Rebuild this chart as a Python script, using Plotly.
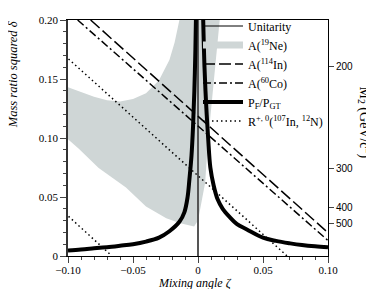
import plotly.graph_objects as go

# ---- data ----
ne19_zeta = [-0.1, -0.09, -0.08, -0.07, -0.06, -0.05, -0.04, -0.03, -0.022, -0.018, -0.0143,
             0.0167, 0.0112, 0.0075, 0.0055, 0.002, 0.0,
             -0.003, -0.0066, -0.0143, -0.0244, -0.040, -0.0554, -0.0764, -0.0919, -0.1, -0.1]
ne19_delta = [0.143, 0.139, 0.135, 0.132, 0.131, 0.133, 0.138, 0.149, 0.166, 0.181, 0.2,
              0.2, 0.136, 0.095, 0.062, 0.04, 0.03,
              0.025, 0.026, 0.028, 0.032, 0.042, 0.058, 0.0746, 0.091, 0.099, 0.143]

in114_zeta = [-0.0826, 0.0984]
in114_delta = [0.2, 0.0213]

co60_zeta = [-0.0926, 0.1]
co60_delta = [0.2, 0.0131]

r_upper_zeta = [-0.0996, 0.0685]
r_upper_delta = [0.167, 0.0]
r_lower_zeta = [-0.0996, -0.0678]
r_lower_delta = [0.0336, 0.0016]

pf_left_zeta = [-0.1, -0.09, -0.08, -0.07, -0.06, -0.05, -0.04, -0.03, -0.022, -0.0143,
                -0.0105, -0.008, -0.0066, -0.005, -0.0038, -0.0028, -0.002, -0.0016]
pf_left_delta = [0.0047, 0.0055, 0.0065, 0.0075, 0.0087, 0.0100, 0.0122, 0.0156, 0.0210, 0.0290,
                 0.037, 0.050, 0.065, 0.085, 0.11, 0.14, 0.175, 0.2]
pf_right_zeta = [0.0040, 0.0050, 0.0062, 0.0078, 0.0095, 0.0120, 0.0151, 0.019, 0.0244, 0.030,
                 0.0376, 0.05, 0.06, 0.0709, 0.08, 0.09, 0.1]
pf_right_delta = [0.2, 0.16, 0.13, 0.100, 0.075, 0.060, 0.048, 0.040, 0.033, 0.027,
                  0.0225, 0.0156, 0.0128, 0.0107, 0.0093, 0.0082, 0.0074]

unitarity_zeta = [0.0, 0.0]
unitarity_delta = [0.0, 0.2]

left_tickvals = [0, 0.05, 0.10, 0.15, 0.20]
left_ticktext = ["0", "0.05", "0.10", "0.15", "0.20"]
bottom_tickvals = [-0.10, -0.05, 0, 0.05, 0.10]
bottom_ticktext = ["\u22120.10", "\u22120.05", "0", "0.05", "0.10"]
m2_labels = ["200", "300", "400", "500"]
m2_delta = [0.161, 0.0745, 0.0415, 0.0275]

SERIF = "Liberation Serif"
GRAY = "#cfd6d6"

fig = go.Figure()

# gray band
fig.add_trace(go.Scatter(x=ne19_zeta, y=ne19_delta, fill="toself", fillcolor=GRAY,
                         line=dict(width=0, color=GRAY), mode="lines",
                         showlegend=False, hoverinfo="skip"))
# unitarity vertical line
fig.add_trace(go.Scatter(x=unitarity_zeta, y=unitarity_delta, mode="lines",
                         line=dict(color="#555555", width=2), showlegend=False))
fig.add_trace(go.Scatter(x=[None], y=[None], mode="lines", name="Unitarity",
                         line=dict(color="black", width=1)))
fig.add_trace(go.Scatter(x=[None], y=[None], mode="lines", name="A(<sup>19</sup>Ne)",
                         line=dict(color=GRAY, width=7)))
fig.add_trace(go.Scatter(x=in114_zeta, y=in114_delta, mode="lines", name="A(<sup>114</sup>In)",
                         line=dict(color="black", width=1.5, dash="12px,4px")))
fig.add_trace(go.Scatter(x=co60_zeta, y=co60_delta, mode="lines", name="A(<sup>60</sup>Co)",
                         line=dict(color="black", width=1.5, dash="8px,3px,2px,3px")))
fig.add_trace(go.Scatter(x=pf_left_zeta, y=pf_left_delta, mode="lines",
                         name="P<sub>F</sub>/P<sub>GT</sub>", legendgroup="pf",
                         line=dict(color="black", width=4, shape="spline")))
fig.add_trace(go.Scatter(x=pf_right_zeta, y=pf_right_delta, mode="lines", showlegend=False,
                         legendgroup="pf", line=dict(color="black", width=4, shape="spline")))
fig.add_trace(go.Scatter(x=r_upper_zeta, y=r_upper_delta, mode="lines",
                         name="R<sup>+, 0</sup>(<sup>107</sup>In, <sup>12</sup>N)", legendgroup="r",
                         line=dict(color="black", width=1.5, dash="1.5px,3px")))
fig.add_trace(go.Scatter(x=r_lower_zeta, y=r_lower_delta, mode="lines", showlegend=False,
                         legendgroup="r", line=dict(color="black", width=1.5, dash="1.5px,3px")))
# invisible trace to carry the right axis
fig.add_trace(go.Scatter(x=[None], y=[None], yaxis="y2", showlegend=False))

# the page body has an 8px default margin, so the figure is 8px smaller
fig.update_layout(
    width=366, height=281,
    margin=dict(l=60, r=46, t=4, b=33),
    plot_bgcolor="white", paper_bgcolor="white",
    font=dict(family=SERIF, size=11, color="black"),
    showlegend=True,
    legend=dict(x=1.0, xanchor="right", y=1.036, yanchor="top",
                bgcolor="rgba(0,0,0,0)", font=dict(family=SERIF, size=12),
                itemwidth=40, tracegroupgap=0),
    xaxis=dict(range=[-0.1, 0.1], tickvals=bottom_tickvals, ticktext=bottom_ticktext,
               ticks="outside", ticklen=6, tickwidth=1, showgrid=False, zeroline=False,
               showline=True, linecolor="black", linewidth=1, mirror=True,
               ticklabelstandoff=-2,
               minor=dict(dtick=0.01, ticks="outside", ticklen=3, tickwidth=1, showgrid=False),
               tickfont=dict(family=SERIF, size=11)),
    yaxis=dict(range=[0, 0.2], tickvals=left_tickvals, ticktext=left_ticktext,
               ticks="outside", ticklen=6, tickwidth=1, showgrid=False, zeroline=False,
               showline=True, linecolor="#333333", linewidth=1.5,
               minor=dict(dtick=0.01, ticks="outside", ticklen=3, tickwidth=1, showgrid=False),
               tickfont=dict(family=SERIF, size=11)),
    yaxis2=dict(range=[0, 0.2], overlaying="y", side="right", anchor="x",
                tickvals=m2_delta, ticktext=m2_labels, ticks="outside", ticklen=5,
                showgrid=False, zeroline=False, showline=True, linecolor="black", linewidth=1,
                tickfont=dict(family="Liberation Sans", size=10)),
    annotations=[
        dict(text="<i>Mass ratio squared δ</i>", xref="paper", yref="paper",
             x=-0.212, y=0.77, xanchor="center", yanchor="middle", textangle=-90,
             showarrow=False, font=dict(family=SERIF, size=12.5)),
        dict(text="<i>Mixing angle ζ</i>", xref="paper", yref="paper",
             x=0.488, y=-0.113, xanchor="center", yanchor="middle",
             showarrow=False, font=dict(family=SERIF, size=12)),
        dict(text="M<sub>2</sub> (GeV/c<sup>2</sup>)", xref="paper", yref="paper",
             x=1.142, y=0.566, xanchor="center", yanchor="middle", textangle=90,
             showarrow=False, font=dict(family=SERIF, size=14)),
    ],
)

fig.write_html("out.html")
